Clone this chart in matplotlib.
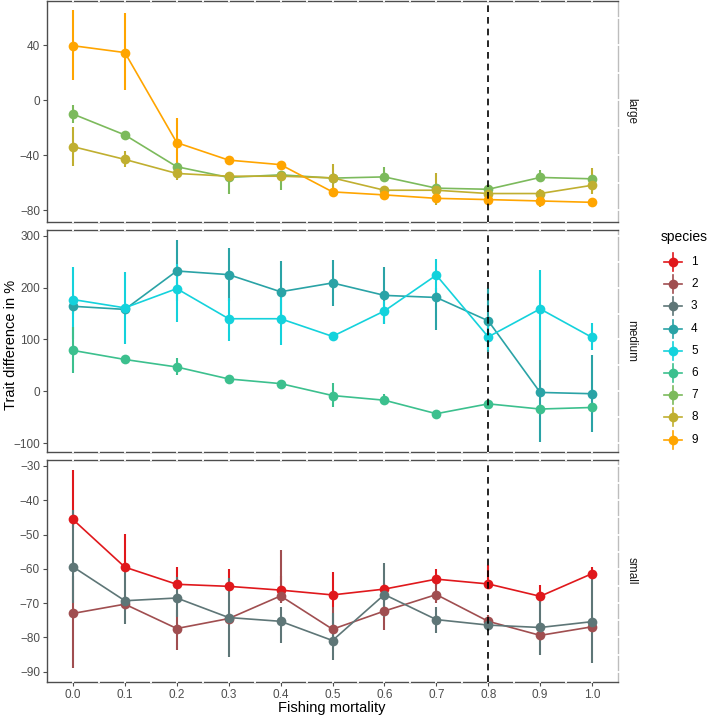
import numpy as np
import matplotlib
matplotlib.use("Agg")
import matplotlib.pyplot as plt
from matplotlib.lines import Line2D
import matplotlib.transforms as mtransforms

plt.rcParams['font.family'] = ['Liberation Sans', 'DejaVu Sans']

fishing = [0.0, 0.1, 0.2, 0.3, 0.4, 0.5, 0.6, 0.7, 0.8, 0.9, 1.0]
x_ticks = [0.0, 0.1, 0.2, 0.3, 0.4, 0.5, 0.6, 0.7, 0.8, 0.9, 1.0]
x_tick_labels = ["0.0", "0.1", "0.2", "0.3", "0.4", "0.5", "0.6", "0.7", "0.8", "0.9", "1.0"]
facets = ["large", "medium", "small"]
species_names = ["1", "2", "3", "4", "5", "6", "7", "8", "9"]
species_colors = ["#E0181C", "#A04E50", "#5E7677", "#2AA3A6", "#14D2DC",
                  "#3CC08E", "#7CBA5C", "#C0AF30", "#FFA500"]
ref_line = 0.8

# ---- large ----
s7_mean = [-10.2, -25.4, -48.5, -56.3, -54.4, -56.8, -55.9, -64.1, -64.9, -56.3, -57.3]
s7_lo = [-16.8, -27.0, -50.0, -68.0, -65.6, -58.0, -58.0, -66.0, -67.0, -58.0, -59.0]
s7_hi = [-3.9, -24.0, -47.0, -55.0, -53.0, -55.0, -48.5, -62.0, -63.0, -51.0, -55.0]

s8_mean = [-33.9, -43.2, -53.4, -55.4, -55.4, -56.6, -65.6, -65.6, -68.0, -68.0, -62.0]
s8_lo = [-47.8, -49.0, -58.5, -57.0, -57.0, -66.0, -67.0, -76.0, -70.0, -78.0, -68.5]
s8_hi = [-19.8, -36.8, -50.0, -54.0, -54.0, -46.6, -64.0, -53.4, -66.0, -65.0, -49.5]

s9_mean = [39.5, 34.5, -31.0, -43.7, -47.0, -66.8, -69.0, -71.5, -72.4, -73.4, -74.4]
s9_lo = [14.4, 7.0, -48.0, -45.0, -48.0, -68.0, -70.0, -73.0, -74.0, -76.0, -75.0]
s9_hi = [65.6, 63.0, -13.0, -42.0, -45.0, -65.0, -67.0, -69.0, -70.0, -71.0, -73.0]

# ---- medium ----
s4_mean = [164, 158, 232, 225, 192, 209, 185, 181, 136, -2, -4.5]
s4_lo = [150, 150, 175, 175, 140, 164, 130, 118, 75, -97, -78]
s4_hi = [175, 165, 291, 277, 251, 254, 240, 200, 200, 60, 70]

s5_mean = [177, 161, 198, 140, 140, 106, 155, 224, 105, 159, 104]
s5_lo = [100, 92, 134, 97, 89, 100, 129, 190, 80, 60, 80]
s5_hi = [240, 230, 246, 180, 190, 112, 175, 256, 130, 233, 131]

s6_mean = [79, 61.5, 47, 24, 15, -8, -17, -43, -24, -34, -31]
s6_lo = [35, 58, 31, 21, 12, -31, -26, -46, -28, -38, -35]
s6_hi = [125, 65, 65, 27, 18, 17, -5, -40, -20, -30, -27]

# ---- small ----
s1_mean = [-45.6, -59.5, -64.5, -65.1, -66.2, -67.6, -65.9, -63.0, -64.4, -68.0, -61.4]
s1_lo = [-48.0, -61.0, -66.0, -66.5, -67.5, -71.0, -67.0, -65.0, -66.0, -70.0, -63.0]
s1_hi = [-31.2, -49.7, -59.4, -60.0, -62.0, -61.0, -64.0, -59.9, -59.0, -64.7, -59.4]

s2_mean = [-73.0, -70.3, -77.4, -74.5, -67.9, -77.6, -72.3, -67.5, -75.3, -79.4, -76.9]
s2_lo = [-89.0, -72.0, -83.7, -76.0, -70.0, -80.0, -77.7, -70.0, -77.0, -81.0, -78.5]
s2_hi = [-62.0, -68.0, -72.0, -73.0, -54.5, -71.0, -66.7, -63.5, -73.5, -78.0, -75.0]

s3_mean = [-59.4, -69.3, -68.5, -74.2, -75.3, -80.9, -67.5, -74.8, -76.4, -77.1, -75.4]
s3_lo = [-70.0, -76.0, -74.0, -85.6, -81.6, -86.6, -74.0, -78.8, -78.0, -85.0, -87.6]
s3_hi = [-42.8, -59.2, -62.3, -62.8, -71.0, -73.0, -58.4, -71.0, -74.0, -69.0, -62.0]

panel_series = {
    "large": [(6, s7_mean, s7_lo, s7_hi), (7, s8_mean, s8_lo, s8_hi), (8, s9_mean, s9_lo, s9_hi)],
    "medium": [(3, s4_mean, s4_lo, s4_hi), (4, s5_mean, s5_lo, s5_hi), (5, s6_mean, s6_lo, s6_hi)],
    "small": [(0, s1_mean, s1_lo, s1_hi), (1, s2_mean, s2_lo, s2_hi), (2, s3_mean, s3_lo, s3_hi)],
}
y_limits = {"large": (-88.7, 72.0), "medium": (-116.8, 311.0), "small": (-93.0, -28.25)}
y_ticks = {"large": [-80, -40, 0, 40],
           "medium": [-100, 0, 100, 200, 300],
           "small": [-90, -80, -70, -60, -50, -40, -30]}

W, H = 709, 716
fig = plt.figure(figsize=(W / 100, H / 100), dpi=100)
left_px, right_px = 47, 618
panel_px = {"large": (1, 222), "medium": (230, 452), "small": (460, 682)}

dark = "#4D4D4D"
light = "#BDBDBD"
tick_col = "#4D4D4D"

for name in facets:
    top, bot = panel_px[name]
    ax = fig.add_axes([left_px / W, 1 - bot / H, (right_px - left_px) / W, (bot - top) / H])
    ax.set_xlim(-0.05, 1.05)
    ax.set_ylim(*y_limits[name])
    ax.set_facecolor("white")
    for sp in ["left", "bottom", "top"]:
        ax.spines[sp].set_color(dark)
        ax.spines[sp].set_linewidth(1.0)
    ax.spines["right"].set_color(light)
    ax.spines["right"].set_linewidth(1.0)

    ax.set_yticks(y_ticks[name])
    ax.set_yticklabels([("\u2212" + str(-v)) if v < 0 else str(v) for v in y_ticks[name]])
    ax.set_xticks(x_ticks)
    if name == "small":
        ax.set_xticklabels(x_tick_labels)
    else:
        ax.set_xticklabels([])
    ax.tick_params(axis="both", colors=tick_col, labelcolor="#4D4D4D", labelsize=8.5,
                   length=3, width=0.8, pad=2)
    if name != "small":
        ax.tick_params(axis="x", length=0)

    # white gaps in the panel border where grid lines cross it
    yt = y_ticks[name]
    step = yt[1] - yt[0]
    ygrid = sorted(set([v for v in yt] + [v + step / 2 for v in yt] + [yt[0] - step / 2]))
    ylo, yhi = y_limits[name]
    ygrid = [v for v in ygrid if ylo < v < yhi]
    xgrid = [round(-0.05 + 0.05 * i, 2) for i in range(1, 22)]
    xgrid = [v for v in xgrid if -0.05 < v < 1.05]
    trx = mtransforms.blended_transform_factory(ax.transData, ax.transAxes)
    for xv in xgrid:
        for yy in (0.0, 1.0):
            ax.plot([xv, xv], [yy - 0.006, yy + 0.006], color="white", lw=1.3,
                    transform=trx, clip_on=False, zorder=5, solid_capstyle="butt")
    try_ = mtransforms.blended_transform_factory(ax.transAxes, ax.transData)
    for yv in ygrid:
        ax.plot([0.996, 1.004], [yv, yv], color="white", lw=1.3,
                transform=try_, clip_on=False, zorder=5, solid_capstyle="butt")

    for idx, m, lo, hi in panel_series[name]:
        col = species_colors[idx]
        m = np.array(m, float)
        lo = np.array(lo, float)
        hi = np.array(hi, float)
        ax.vlines(fishing, lo, hi, colors=col, lw=1.5, zorder=2)
        ax.plot(fishing, m, color=col, lw=1.2, zorder=3)
        ax.plot(fishing, m, "o", color=col, ms=7, mec="none", zorder=4)

    ax.axvline(ref_line, color="black", lw=1.2, ls=(0, (4, 3)), zorder=6)

    ax.text(1.013, 0.5, name, transform=ax.transAxes, rotation=-90,
            ha="left", va="center", fontsize=8.5, color="#1A1A1A")

fig.text(332 / W, 1 - 708 / H, "Fishing mortality", ha="center", va="center",
         fontsize=10.5, color="black")
fig.text(11 / W, 1 - 345 / H, "Trait difference in %", ha="center", va="center",
         rotation=90, fontsize=10.5, color="black")

# legend
fig.text(661 / W, 1 - 237 / H, "species", ha="left", va="center", fontsize=10, color="black")
leg_y0 = 262
leg_dy = 22.2
for i, s in enumerate(species_names):
    yc = 1 - (leg_y0 + i * leg_dy) / H
    xc = 673 / W
    col = species_colors[i]
    fig.add_artist(Line2D([xc - 9 / W, xc + 9 / W], [yc, yc], color=col, lw=1.2,
                          transform=fig.transFigure))
    fig.add_artist(Line2D([xc, xc], [yc - 9 / H, yc + 9 / H], color=col, lw=1.2,
                          transform=fig.transFigure))
    fig.add_artist(Line2D([xc], [yc], color=col, marker="o", ms=7, mec="none",
                          transform=fig.transFigure))
    fig.text(691 / W, yc, s, ha="left", va="center", fontsize=8.5, color="black")

fig.savefig("out.png", dpi=100, facecolor="white")
